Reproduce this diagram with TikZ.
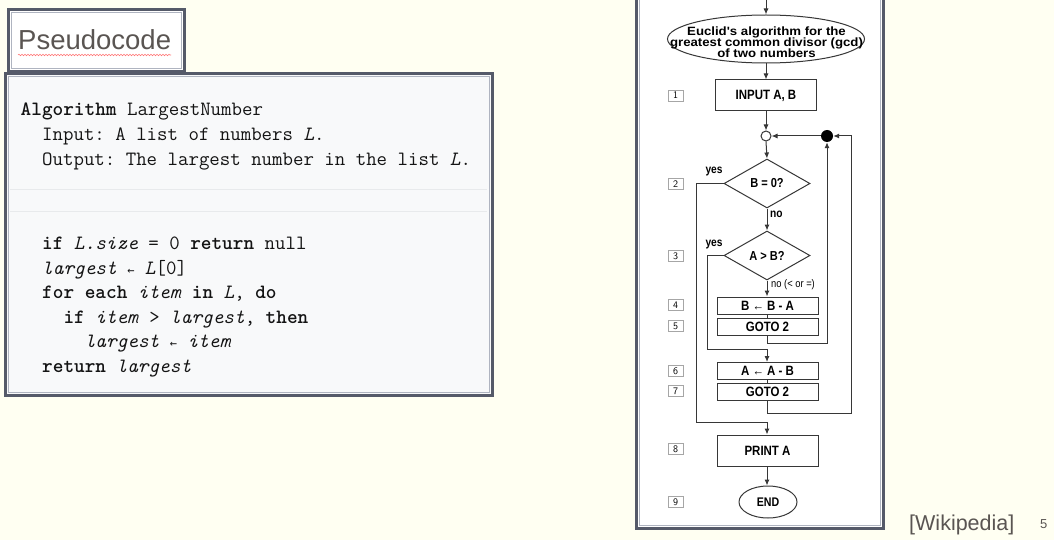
\documentclass[tikz,border=0pt]{standalone}
\usepackage{fontspec}
\setmainfont{Liberation Sans}
\newfontfamily\flowfont[FakeStretch=0.85]{Liberation Sans}
\newfontfamily\ellfont[FakeStretch=1.1]{Liberation Sans}
\usetikzlibrary{shapes.geometric,arrows.meta,decorations.pathmorphing}
\frenchspacing
\definecolor{bgivory}{RGB}{255,255,242}
\definecolor{frameDark}{RGB}{85,90,105}
\definecolor{frameLight}{RGB}{175,180,192}
\definecolor{codebg}{RGB}{248,249,250}
\definecolor{sepgray}{RGB}{232,234,236}
\definecolor{txtgray}{RGB}{90,85,82}
\definecolor{flowline}{RGB}{55,55,55}
\definecolor{codetxt}{RGB}{20,20,20}
\newcommand{\tightlines}{\lineskiplimit=-20pt\relax\lineskip=0pt\relax}
\tikzset{
  codeline/.style={anchor=base west, inner sep=0pt, text=codetxt, font=\ttfamily\fontsize{20.3}{22}\selectfont},
  fbox/.style={draw=flowline, line width=1pt, fill=white, minimum width=101pt, inner sep=0pt, font=\flowfont\bfseries\fontsize{13.5}{14}\selectfont, text=black},
  fdiam/.style={draw=flowline, line width=1pt, fill=white, diamond, aspect=1.75, minimum width=86pt, minimum height=49pt, inner sep=0pt, font=\flowfont\bfseries\fontsize{13}{14}\selectfont},
  numbox/.style={draw=gray!70, line width=0.8pt, fill=white, minimum width=15pt, minimum height=11pt, inner sep=0pt, font=\sffamily\fontsize{10}{10}\selectfont},
  flab/.style={inner sep=0pt, font=\flowfont\bfseries\fontsize{12}{12}\selectfont},
  conn/.style={draw=flowline, line width=1pt},
  arr/.style={conn, -{Latex[length=6pt,width=5pt]}},
}
\newcommand{\smallarrow}{{\fontspec{DejaVu Sans Mono}\fontsize{12}{12}\selectfont ←}}
\begin{document}
\begin{tikzpicture}[x=1pt,y=-1pt]
\useasboundingbox (0,0) rectangle (1054,540);
\fill[bgivory] (0,0) rectangle (1054,540);

% Pseudocode tab
\draw[frameDark, line width=3pt, fill=white] (8.5,9.5) rectangle (184,72);
\draw[frameLight, line width=1pt] (11.5,12.5) rectangle (181,69);
\node[anchor=base west, inner sep=0pt, text=txtgray, font=\fontsize{27.5}{30}\selectfont] (title) at (18,50) {Pseudocode};
\draw[red!55, line width=0.6pt, decorate, decoration={snake, amplitude=0.7pt, segment length=3pt}] (18,55) -- (171,55);

% Code box
\draw[frameDark, line width=3pt, fill=codebg] (5.5,74) rectangle (492,395);
\draw[frameLight, line width=1pt] (8.5,77) rectangle (489,392);
\draw[sepgray, line width=1pt] (10,190) -- (487,190);
\draw[sepgray, line width=1pt] (10,211) -- (487,211);

\node[codeline] (l1) at (20.5,115.5) {\bfseries Algorithm\mdseries{} LargestNumber};
\node[codeline] (l2) at (42,140.5) {Input: A list of numbers \textit{L}.};
\node[codeline] (l3) at (42,165.5) {Output: The largest number in the list \textit{L}.};
\node[codeline] (l4) at (42,249.5) {\textbf{if} \textit{L.size} = 0 \textbf{return} null};
\node[codeline] (l5) at (42,274) {\textit{largest} \smallarrow{} \textit{L}[0]};
\node[codeline] (l6) at (42,298.5) {\textbf{for each} \textit{item} \textbf{in} \textit{L}, \textbf{do}};
\node[codeline] (l7) at (63.3,323) {\textbf{if} \textit{item} > \textit{largest}, \textbf{then}};
\node[codeline] (l8) at (84.6,347.5) {\textit{largest} \smallarrow{} \textit{item}};
\node[codeline] (l9) at (42,372) {\textbf{return} \textit{largest}};

% Flowchart frame
\draw[frameDark, line width=3pt, fill=white] (636,-5) rectangle (883,528.5);
\draw[frameLight, line width=1pt] (639,-5) rectangle (880,525.5);

% Flowchart nodes
\node[ellipse, draw=flowline, line width=1pt, fill=white, minimum width=197pt, minimum height=48pt, inner sep=0pt] (e1) at (766,39) {};
\node[align=center, inner sep=0pt, font=\ellfont\bfseries\fontsize{12}{10.8}\selectfont\tightlines] (e1t) at (766.5,42)
      {Euclid's algorithm for the\\greatest common divisor (gcd)\\of two numbers};
\coordinate (top) at (766,-3);
\node[fbox, minimum height=31pt] (in1) at (766,95.5) {INPUT A, B};
\node[circle, draw=flowline, line width=1pt, fill=white, minimum size=10pt, inner sep=0pt] (oc) at (766,136) {};
\node[circle, fill=black, minimum size=12pt, inner sep=0pt] (fc) at (827,136) {};
\node[fdiam] (d1) at (767,183.5) {B = 0?};
\node[fdiam] (d2) at (767,255.5) {A > B?};
\node[fbox, minimum height=17pt] (b4) at (767.5,305.5) {B ← B - A};
\node[fbox, minimum height=17pt] (b5) at (767.5,326.5) {GOTO 2};
\node[fbox, minimum height=17pt] (b6) at (767.5,371) {A ← A - B};
\node[fbox, minimum height=17pt] (b7) at (767.5,392) {GOTO 2};
\node[fbox, minimum height=31pt] (b8) at (767.5,450.5) {PRINT A};
\node[ellipse, draw=flowline, line width=1pt, fill=white, minimum width=58pt, minimum height=32pt, inner sep=0pt,
      font=\flowfont\bfseries\fontsize{12.5}{12}\selectfont] (end) at (768,502) {END};

% number boxes
\node[numbox] (n1) at (675.5,95.5) {1};
\node[numbox] (n2) at (675.5,184) {2};
\node[numbox] (n3) at (675.5,256) {3};
\node[numbox] (n4) at (675.5,305) {4};
\node[numbox] (n5) at (675.5,326) {5};
\node[numbox] (n6) at (675.5,371) {6};
\node[numbox] (n7) at (675.5,391) {7};
\node[numbox] (n8) at (675.5,449) {8};
\node[numbox] (n9) at (675.5,502) {9};

% labels
\node[flab] (y1) at (714,172) {yes};
\node[flab] (y2) at (714,245) {yes};
\node[flab, anchor=west] (no1) at (770,214) {no};
\node[flab, anchor=west, font=\flowfont\fontsize{11}{11}\selectfont] (no2) at (771,285) {no (< or =)};

% connectors
\draw[arr] (top) -- (e1.north);
\draw[arr] (e1.south) -- (in1.north);
\draw[arr] (in1.south) -- (oc.north);
\draw[arr] (oc.south) -- (d1.north);
\draw[arr] (d1.south) -- (d2.north);
\draw[arr] (d2.south) -- (b4.north -| d2.south);
\draw[conn] (b4.south -| b4) -- (b5.north -| b5);
\draw[conn] (b6.south -| b6) -- (b7.north -| b7);
\draw[arr] (b5.south -| d2.south) -- (767,343) -| (fc.south);
\draw[arr] (fc.west) -- (oc.east);
\draw[arr] (b7.south -| d2.south) -- (767,413) -- (851,413) |- (fc.east);
\draw[arr] (d1.west) -- (696,183.5) |- (767,422) -- (b8.north -| d2.south);
\draw[arr] (d2.west) -- (707,255.5) |- (767,349) -- (b6.north -| d2.south);
\draw[arr] (b8.south -| d2.south) -- (end.north -| d2.south);

% footer
\node[anchor=base west, inner sep=0pt, text=txtgray, font=\fontsize{21.5}{24}\selectfont] (wiki) at (909,530) {[Wikipedia]};
\node[anchor=base west, inner sep=0pt, text=txtgray, font=\fontsize{13}{14}\selectfont] (pg) at (1040,528) {5};
\end{tikzpicture}
\end{document}
